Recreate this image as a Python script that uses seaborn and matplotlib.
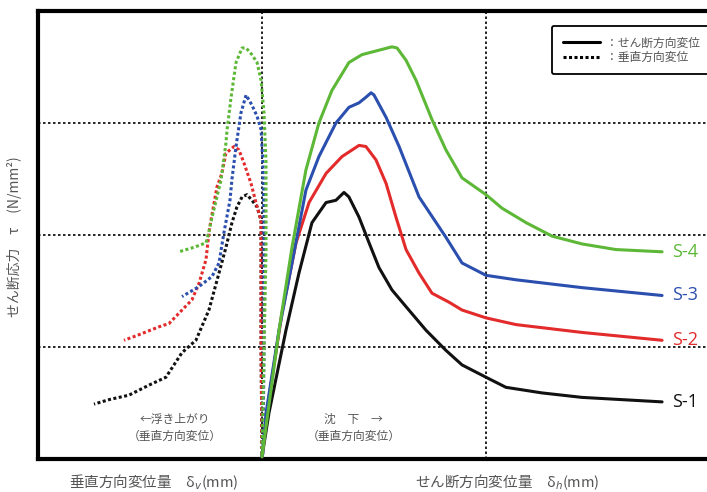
import matplotlib
matplotlib.use("Agg")
import matplotlib.pyplot as plt
from matplotlib.lines import Line2D
import seaborn as sns
import pandas as pd
import numpy as np

# 試験体
specimens = ["S-1", "S-2", "S-3", "S-4"]
colors = {"S-1": "#111111", "S-2": "#e32b2b", "S-3": "#2b4fae", "S-4": "#5cb836"}

# せん断方向変位 (実線) : x = δh, y = τ
shear_x = {
    "S-1": [0, 0.31, 1.07, 1.65, 2.23, 2.86, 3.30, 3.66, 3.88, 4.33, 4.78, 5.22, 5.80, 6.43, 7.32, 8.21, 8.93, 10.0, 10.89, 12.50, 14.29, 17.86],
    "S-2": [0, 0.31, 0.89, 1.52, 2.10, 2.86, 3.57, 4.33, 4.64, 5.09, 5.54, 5.98, 6.43, 7.01, 7.59, 8.35, 8.93, 10.0, 11.34, 14.29, 17.86],
    "S-3": [0, 0.18, 0.76, 1.34, 1.96, 2.54, 3.30, 3.88, 4.33, 4.64, 4.87, 5.00, 5.54, 6.12, 7.01, 8.21, 8.93, 10.0, 11.34, 14.29, 17.86],
    "S-4": [0, 0.76, 1.34, 1.96, 2.54, 3.12, 3.88, 4.46, 5.22, 5.80, 6.03, 6.43, 6.88, 7.59, 8.21, 8.93, 10.0, 10.71, 11.79, 12.95, 14.29, 15.80, 17.86],
}
shear_y = {
    "S-1": [0.02, 0.41, 1.15, 1.66, 2.11, 2.29, 2.31, 2.38, 2.34, 2.16, 1.93, 1.71, 1.51, 1.36, 1.15, 0.97, 0.84, 0.73, 0.64, 0.59, 0.55, 0.51],
    "S-2": [0.02, 0.55, 1.30, 1.93, 2.29, 2.55, 2.70, 2.80, 2.79, 2.67, 2.46, 2.16, 1.87, 1.66, 1.48, 1.40, 1.33, 1.26, 1.20, 1.13, 1.06],
    "S-3": [0.02, 0.41, 1.15, 1.75, 2.40, 2.70, 3.00, 3.14, 3.18, 3.23, 3.27, 3.25, 3.05, 2.79, 2.34, 1.98, 1.75, 1.64, 1.60, 1.53, 1.46],
    "S-4": [0.02, 1.15, 1.89, 2.58, 3.00, 3.29, 3.54, 3.61, 3.65, 3.68, 3.67, 3.56, 3.38, 3.03, 2.76, 2.51, 2.36, 2.24, 2.11, 1.99, 1.92, 1.87, 1.85],
}

# 垂直方向変位 (点線) : x = -δv (浮き上がり側が負), y = τ
vert_x = {
    "S-1": [0, -0.04, -0.04, -0.22, -0.45, -0.67, -0.89, -1.12, -1.34, -1.61, -1.92, -2.37, -2.95, -3.57, -4.29, -5.04, -5.94, -6.83, -7.50],
    "S-2": [0, -0.04, -0.04, -0.27, -0.49, -0.80, -1.03, -1.25, -1.61, -1.79, -2.01, -2.28, -2.37, -2.50, -2.81, -3.13, -3.57, -4.15, -4.60, -5.49, -6.16],
    "S-3": [0.04, 0.09, 0.09, 0.04, -0.04, -0.22, -0.45, -0.71, -0.94, -1.16, -1.34, -1.43, -1.70, -1.92, -2.23, -2.81, -3.57],
    "S-4": [0, 0.09, 0.18, 0.18, 0.09, -0.04, -0.22, -0.45, -0.71, -0.89, -1.16, -1.38, -1.56, -1.61, -1.83, -2.23, -2.37, -2.50, -3.04, -3.71],
}
vert_y = {
    "S-1": [0.04, 0.97, 2.13, 2.25, 2.31, 2.36, 2.34, 2.25, 2.11, 1.89, 1.66, 1.33, 1.06, 0.95, 0.73, 0.66, 0.57, 0.53, 0.49],
    "S-2": [0.04, 0.97, 2.13, 2.29, 2.46, 2.64, 2.76, 2.79, 2.73, 2.55, 2.43, 2.13, 2.02, 1.78, 1.57, 1.42, 1.33, 1.21, 1.18, 1.11, 1.06],
    "S-3": [0.04, 0.97, 2.11, 2.64, 2.94, 3.06, 3.16, 3.25, 3.09, 2.79, 2.50, 2.31, 2.02, 1.75, 1.63, 1.54, 1.45],
    "S-4": [0.04, 0.97, 1.87, 2.64, 3.09, 3.38, 3.54, 3.61, 3.67, 3.67, 3.54, 3.23, 2.94, 2.82, 2.49, 2.16, 2.03, 1.93, 1.89, 1.85],
}

rows = []
for s in specimens:
    for i, (x, y) in enumerate(zip(shear_x[s], shear_y[s])):
        rows.append((s, "shear", i, x, y))
    for i, (x, y) in enumerate(zip(vert_x[s], vert_y[s])):
        rows.append((s, "vertical", i, x, y))
df = pd.DataFrame(rows, columns=["specimen", "kind", "idx", "x", "y"])

sns.set_theme(style="white")
plt.rcParams["font.family"] = ["Noto Sans CJK JP", "DejaVu Sans"]

fig = plt.figure(figsize=(7.07, 4.92), dpi=100)
ax = fig.add_axes([38 / 707, 33 / 492, 672 / 707, 448 / 492])

# グリッド (点線)
for gy in [1, 2, 3]:
    ax.axhline(gy, color="black", lw=1.2, ls=(0, (1.5, 1.5)), zorder=1)
for gx in [0, 10]:
    ax.axvline(gx, color="black", lw=1.2, ls=(0, (1.5, 1.5)), zorder=1)

sns.lineplot(data=df, x="x", y="y", hue="specimen", style="kind",
             palette=colors, dashes={"shear": "", "vertical": (1, 0.8)},
             estimator=None, sort=False, lw=2.2, legend=False, ax=ax, zorder=3)

ax.set_xlim(-10, 20)
ax.set_ylim(0, 4)
ax.set_xticks([])
ax.set_yticks([])
ax.set_xlabel("")
ax.set_ylabel("")
for side in ["left", "top", "bottom"]:
    ax.spines[side].set_color("black")
    ax.spines[side].set_linewidth(3)
ax.spines["right"].set_visible(False)

# 試験体ラベル
for s in specimens:
    ax.text(18.3, shear_y[s][-1], s, color=colors[s], fontsize=13,
            ha="left", va="center", family=["Open Sans", "DejaVu Sans"])

gray = "#555555"
ax.text(-3.9, 0.35, "←浮き上がり", ha="center", va="center", fontsize=8.5, color=gray)
ax.text(-3.9, 0.20, "（垂直方向変位）", ha="center", va="center", fontsize=8.5, color=gray)
ax.text(4.1, 0.35, "沈　下　→", ha="center", va="center", fontsize=8.5, color=gray)
ax.text(4.1, 0.20, "（垂直方向変位）", ha="center", va="center", fontsize=8.5, color=gray)

# 凡例
handles = [Line2D([], [], color="black", lw=2.2),
           Line2D([], [], color="black", lw=2.2, ls=(0, (1, 0.8)))]
leg = ax.legend(handles, ["：せん断方向変位", "：垂直方向変位"],
                loc="upper left", bbox_to_anchor=(546 / 707, 1 - 20 / 492),
                bbox_transform=fig.transFigure, fontsize=8.5, handlelength=3.2,
                handletextpad=0.5, labelspacing=0.1, borderpad=0.9,
                frameon=True, fancybox=True, framealpha=1)
leg.get_frame().set_edgecolor("black")
leg.get_frame().set_linewidth(1.3)
for t in leg.get_texts():
    t.set_color(gray)

fig.text(15 / 707, 1 - 237 / 492, "せん断応力　τ　(N/mm²)", rotation=90,
         ha="center", va="center", fontsize=10, color=gray)
fig.text(154 / 707, 1 - 482 / 492, "垂直方向変位量　δ$_v$(mm)",
         ha="center", va="center", fontsize=10.5, color=gray)
fig.text(507 / 707, 1 - 482 / 492, "せん断方向変位量　δ$_h$(mm)",
         ha="center", va="center", fontsize=10.5, color=gray)

fig.savefig("out.png", dpi=100)
